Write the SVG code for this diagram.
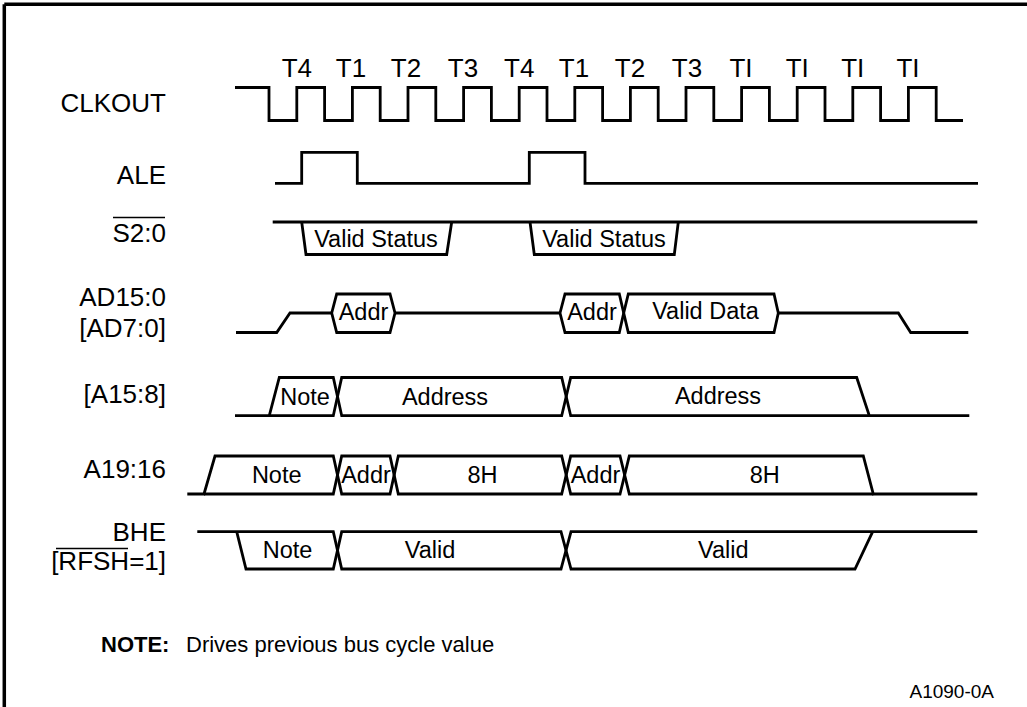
<svg xmlns="http://www.w3.org/2000/svg" width="1027" height="707" viewBox="0 0 1027 707">
<style>
.bg{fill:#ffffff}
.frame{stroke:#000;stroke-width:3.5;fill:none}
.w{stroke:#000;stroke-width:2.8;fill:none;stroke-linejoin:miter}
.ov{stroke:#000;stroke-width:1.5}
.lbl{font-family:"Liberation Sans",Arial,sans-serif;font-size:26px;fill:#000;text-anchor:end}
.tk{font-family:"Liberation Sans",Arial,sans-serif;font-size:26px;fill:#000;text-anchor:middle}
.bx{font-family:"Liberation Sans",Arial,sans-serif;font-size:23.5px;fill:#000;text-anchor:middle}
.note{font-family:"Liberation Sans",Arial,sans-serif;font-size:22px;fill:#000}
.ref{font-family:"Liberation Sans",Arial,sans-serif;font-size:19px;fill:#000;text-anchor:end}
</style>
<rect class="bg" x="0" y="0" width="1027" height="707"/>
<g id="frame">
<line class="frame" x1="4.3" y1="4.3" x2="1027" y2="4.3"/>
<line class="frame" x1="4.3" y1="4.3" x2="4.3" y2="707"/>
</g>
<g id="clkout">
<text class="lbl" x="166" y="112">CLKOUT</text>
<text class="tk" x="296.8" y="77">T4</text>
<text class="tk" x="351" y="77">T1</text>
<text class="tk" x="406" y="77">T2</text>
<text class="tk" x="463" y="77">T3</text>
<text class="tk" x="519.2" y="77">T4</text>
<text class="tk" x="574" y="77">T1</text>
<text class="tk" x="630" y="77">T2</text>
<text class="tk" x="687" y="77">T3</text>
<text class="tk" x="741" y="77">TI</text>
<text class="tk" x="797.2" y="77">TI</text>
<text class="tk" x="852.8" y="77">TI</text>
<text class="tk" x="908" y="77">TI</text>
<path class="w" d="M235,87.5 H269 V120.5 H296.8 V87.5 H324.6 V120.5 H352.4 V87.5 H380.2 V120.5 H408 V87.5 H435.8 V120.5 H463.6 V87.5 H491.4 V120.5 H519.2 V87.5 H547 V120.5 H574.8 V87.5 H602.6 V120.5 H630.4 V87.5 H658.2 V120.5 H686 V87.5 H713.8 V120.5 H741.6 V87.5 H769.4 V120.5 H797.2 V87.5 H825 V120.5 H852.8 V87.5 H880.6 V120.5 H908.4 V87.5 H936.2 V120.5 H963"/>
</g>
<g id="ale">
<text class="lbl" x="166" y="184">ALE</text>
<path class="w" d="M275,183.3 H301.7 V152.3 H357.3 V183.3 H529.3 V152.3 H585 V183.3 H978"/>
</g>
<g id="s20">
<text class="lbl" x="166" y="242">S2:0</text>
<line class="ov" x1="113" y1="217.5" x2="165" y2="217.5"/>
<path class="w" d="M272.7,222 H977.3"/>
<path class="w" d="M301.7,222 L306,254.5 H446.7 L451.7,222"/>
<path class="w" d="M530,222 L534.3,254.5 H674.3 L678.3,222"/>
<text class="bx" x="376" y="247">Valid Status</text>
<text class="bx" x="604" y="247">Valid Status</text>
</g>
<g id="ad">
<text class="lbl" x="166" y="306">AD15:0</text>
<text class="lbl" x="166" y="337">[AD7:0]</text>
<path class="w" d="M236,332.5 H276.7 L290,313 H331.7"/>
<path class="w" d="M331.7,313 L336.7,294 H390 L395,313 L390,332.5 H336.7 Z"/>
<path class="w" d="M395,313 H560"/>
<path class="w" d="M560,313 L565,294 H619.3 L623.7,313 L619.3,332.5 H565 Z"/>
<path class="w" d="M623.7,313 L628.3,294 H774 L778.3,313 L774,332.5 H628.3 Z"/>
<path class="w" d="M778.3,313 H898.3 L910.7,332.5 H968.3"/>
<text class="bx" x="363.5" y="320">Addr</text>
<text class="bx" x="592" y="320">Addr</text>
<text class="bx" x="705.5" y="319">Valid Data</text>
</g>
<g id="a158">
<text class="lbl" x="166" y="403">[A15:8]</text>
<path class="w" d="M235,415.7 H269.3 L279.3,377.5 H333.3 L341.7,415.7 H561.7 L570.7,377.5 H856.7 L869.3,415.7 H969.3"/>
<path class="w" d="M269.3,415.7 H333.3 L341.7,377.5 H561.7 L570.7,415.7 H869.3"/>
<text class="bx" x="305" y="405">Note</text>
<text class="bx" x="445" y="405">Address</text>
<text class="bx" x="718" y="404">Address</text>
</g>
<g id="a1916">
<text class="lbl" x="166" y="478">A19:16</text>
<path class="w" d="M187.3,494 H204 L215,456 H333.3 L341.7,494 H390 L398.3,456 H561.7 L570.7,494 H620 L629.3,456 H863.3 L873.3,494 H977.3"/>
<path class="w" d="M204,494 H333.3 L341.7,456 H390 L398.3,494 H561.7 L570.7,456 H620 L629.3,494 H873.3"/>
<text class="bx" x="276.7" y="483">Note</text>
<text class="bx" x="366" y="483">Addr</text>
<text class="bx" x="482.5" y="483">8H</text>
<text class="bx" x="595.5" y="483">Addr</text>
<text class="bx" x="764.7" y="483">8H</text>
</g>
<g id="bhe">
<text class="lbl" x="166" y="541">BHE</text>
<text class="lbl" x="166" y="570">[RFSH=1]</text>
<line class="ov" x1="56" y1="548.5" x2="128" y2="548.5"/>
<path class="w" d="M197.3,531.7 H333.3 L341.7,569 H561 L571,531.7 H977.3"/>
<path class="w" d="M236.7,531.7 L246,569 H333.3 L341.7,531.7 H561 L571,569 H855 L872.7,531.7"/>
<text class="bx" x="287.5" y="558">Note</text>
<text class="bx" x="430" y="558">Valid</text>
<text class="bx" x="723.3" y="558">Valid</text>
</g>
<g id="footnote">
<text class="note" x="101" y="652"><tspan font-weight="bold">NOTE:</tspan><tspan x="186">Drives previous bus cycle value</tspan></text>
<text class="ref" x="994" y="698">A1090-0A</text>
</g>
</svg>
